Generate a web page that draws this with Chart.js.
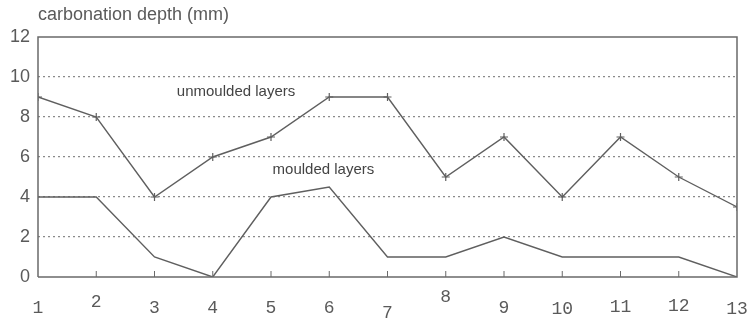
<!DOCTYPE html>
<html>
<head>
<meta charset="utf-8">
<script src="https://cdn.jsdelivr.net/npm/chart.js@4"></script>
<style>
  html, body { margin: 0; padding: 0; background: #fff; }
  #wrap { width: 747px; height: 326px; position: relative; }
</style>
</head>
<body>
<div id="wrap"><canvas id="chart"></canvas></div>
<script>
/* data */
const samples = [1, 2, 3, 4, 5, 6, 7, 8, 9, 10, 11, 12, 13];
const unmoulded = [9, 8, 4, 6, 7, 9, 9, 5, 7, 4, 7, 5, 3.5];
const moulded = [4, 4, 1, 0, 4, 4.5, 1, 1, 2, 1, 1, 1, 0];
const yTicks = [0, 2, 4, 6, 8, 10, 12];
const yTitle = "carbonation depth (mm)";
const notes = [
  { text: "unmoulded layers", x: 4.4, y: 9.25 },
  { text: "moulded layers", x: 5.9, y: 5.35 }
];
// the typed sample numbers sit a bit up or down on the scan
const labelNudge = [0, -6, 0, 0, 0, 0, 5, -11, 0, 1, -1, -2, 1];

const ink = "#5a5a5a";

/* frame, inner tick marks, labels */
const framePlugin = {
  id: "frame",
  afterDraw(chart) {
    const ctx = chart.ctx;
    const a = chart.chartArea;
    const xs = chart.scales.x;
    const ys = chart.scales.y;
    ctx.save();
    ctx.strokeStyle = "#6a6a6a";
    ctx.lineWidth = 1.5;
    ctx.beginPath();
    ctx.moveTo(a.left, a.bottom);
    ctx.lineTo(a.left, a.top);
    ctx.lineTo(a.right, a.top);
    ctx.lineTo(a.right, a.bottom);
    ctx.lineTo(a.left, a.bottom);
    ctx.stroke();

    ctx.lineWidth = 1;
    samples.slice(1, -1).forEach((s) => {
      const px = xs.getPixelForValue(s);
      ctx.beginPath();
      ctx.moveTo(px, a.bottom);
      ctx.lineTo(px, a.bottom - 6);
      ctx.stroke();
    });

    // sample numbers
    ctx.fillStyle = ink;
    ctx.font = "18px 'Liberation Mono', 'DejaVu Sans Mono', monospace";
    ctx.textAlign = "center";
    ctx.textBaseline = "middle";
    samples.forEach((s, i) => {
      ctx.fillText(String(s), xs.getPixelForValue(s), 308 + labelNudge[i]);
    });

    ctx.font = "18px 'Liberation Sans', Arial, sans-serif";
    ctx.textAlign = "left";
    ctx.fillText(yTitle, a.left, 15);

    ctx.font = "15px 'Liberation Sans', Arial, sans-serif";
    ctx.fillStyle = "#444";
    ctx.textAlign = "center";
    notes.forEach((n) => {
      ctx.fillText(n.text, xs.getPixelForValue(n.x), ys.getPixelForValue(n.y));
    });
    ctx.restore();
  }
};

new Chart(document.getElementById("chart"), {
  type: "line",
  data: {
    datasets: [
      {
        label: "unmoulded layers",
        data: samples.map((s, i) => ({ x: s, y: unmoulded[i] })),
        borderColor: "#5f5f5f",
        borderWidth: 1.4,
        pointStyle: "cross",
        pointRadius: 4,
        pointBorderColor: "#5f5f5f",
        pointBorderWidth: 1.2,
        tension: 0
      },
      {
        label: "moulded layers",
        data: samples.map((s, i) => ({ x: s, y: moulded[i] })),
        borderColor: "#5f5f5f",
        borderWidth: 1.4,
        pointRadius: 0,
        tension: 0
      }
    ]
  },
  options: {
    responsive: true,
    maintainAspectRatio: false,
    animation: false,
    layout: { padding: { top: 37, right: 10, left: 0, bottom: 0 } },
    plugins: {
      legend: { display: false },
      tooltip: { enabled: false }
    },
    scales: {
      x: {
        type: "linear",
        min: 1,
        max: 13,
        afterFit: (s) => { s.height = 49; },
        afterBuildTicks: (s) => { s.ticks = samples.map((v) => ({ value: v })); },
        grid: { display: false },
        border: { display: false },
        ticks: { display: false }
      },
      y: {
        min: 0,
        max: 12,
        afterFit: (s) => { s.width = 38; },
        afterBuildTicks: (s) => { s.ticks = yTicks.map((v) => ({ value: v })); },
        grid: {
          color: (c) => (c.tick && (c.tick.value === 0 || c.tick.value === 12) ? "rgba(0,0,0,0)" : "#8a8a8a"),
          lineWidth: 1.2,
          tickLength: 0
        },
        border: { display: false, dash: [2, 3] },
        ticks: {
          color: ink,
          padding: 8,
          font: { family: "'Liberation Sans', Arial, sans-serif", size: 18 }
        }
      }
    }
  },
  plugins: [framePlugin]
});
</script>
</body>
</html>
